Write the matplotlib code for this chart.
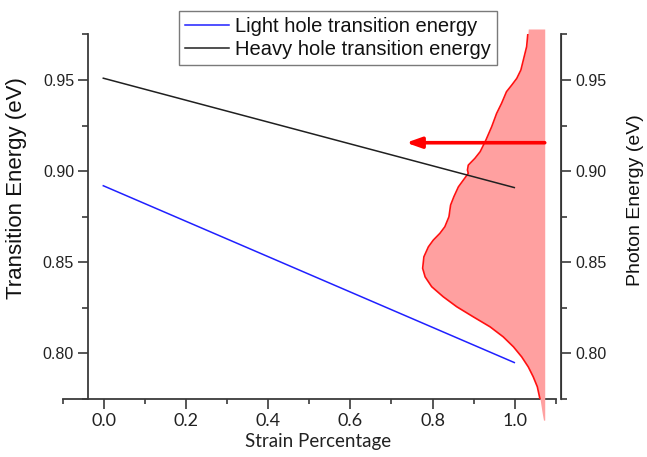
import numpy as np
import matplotlib.pyplot as plt
from matplotlib.ticker import MultipleLocator
from matplotlib.lines import Line2D

plt.rcParams['font.family'] = ['Liberation Sans', 'DejaVu Sans']

# énergies de transition en fonction de la déformation
strain = [0.0, 1.0]
light_hole = [0.892, 0.795]
heavy_hole = [0.951, 0.891]

# spectre de photoluminescence (tourné) : énergie photon et bord gauche (unités axe x)
photon_energy = [0.9780, 0.9683, 0.9628, 0.9555, 0.9509, 0.9473, 0.9436, 0.9372,
                 0.9317, 0.9244, 0.9171, 0.9107, 0.9070, 0.9033, 0.9006, 0.8988,
                 0.8951, 0.8914, 0.8860, 0.8814, 0.8750, 0.8695, 0.8659, 0.8622,
                 0.8585, 0.8530, 0.8467, 0.8420, 0.8366, 0.8311, 0.8256, 0.8201,
                 0.8146, 0.8091, 0.8036, 0.7981, 0.7926, 0.7872, 0.7817, 0.7744,
                 0.7671, 0.7634]
spectre_x = [1.034, 1.030, 1.024, 1.016, 1.006, 0.994, 0.981, 0.969,
             0.957, 0.945, 0.931, 0.917, 0.904, 0.888, 0.886, 0.888,
             0.876, 0.864, 0.853, 0.845, 0.841, 0.831, 0.819, 0.803,
             0.791, 0.780, 0.777, 0.783, 0.799, 0.827, 0.860, 0.900,
             0.941, 0.973, 0.998, 1.018, 1.034, 1.046, 1.056, 1.063,
             1.068, 1.071]
spectre_base = 1.074

# flèche
arrow_energy = 0.9156
arrow_start = 1.074
arrow_end = 0.737

W, H = 647, 457
fig = plt.figure(figsize=(W / 100, H / 100), dpi=100)

spine_col = '#3a3a3a'

# axe x séparé (plus large que le cadre)
ax_x = fig.add_axes([62.7 / W, 1 - 399 / H, 493.2 / W, 365 / H])
ax_x.set_xlim(-0.1, 1.1)
ax_x.patch.set_visible(False)
for s in ['top', 'left', 'right']:
    ax_x.spines[s].set_visible(False)
ax_x.spines['bottom'].set_color(spine_col)
ax_x.spines['bottom'].set_linewidth(1.3)
ax_x.set_yticks([])
ax_x.xaxis.set_minor_locator(MultipleLocator(0.1))
ax_x.set_xticks([0.0, 0.2, 0.4, 0.6, 0.8, 1.0])
ax_x.set_xticklabels(['0.0', '0.2', '0.4', '0.6', '0.8', '1.0'], family='Lato', fontsize=13)
ax_x.tick_params(axis='x', which='major', direction='out', length=7, width=1.2,
                 color=spine_col, pad=3, labelcolor='#222222')
ax_x.tick_params(axis='x', which='minor', direction='out', length=3.5, width=1.2,
                 color=spine_col)

ax = fig.add_axes([88 / W, 1 - 399 / H, 473 / W, 365 / H])
ax.patch.set_visible(False)
ax.set_xlim(-0.0372, 1.1136)
ax.set_ylim(0.775, 0.97525)
ax.spines['top'].set_visible(False)
ax.spines['bottom'].set_visible(False)
ax.set_xticks([])

ax_r = ax.twinx()
ax_r.set_ylim(0.775, 0.97525)
for s in ['top', 'bottom', 'left']:
    ax_r.spines[s].set_visible(False)

for a, side in [(ax, 'left'), (ax_r, 'right')]:
    a.spines[side].set_color(spine_col)
    a.spines[side].set_linewidth(1.3)
    a.set_yticks([0.80, 0.85, 0.90, 0.95])
    a.set_yticklabels(['0.80', '0.85', '0.90', '0.95'])
    a.yaxis.set_minor_locator(MultipleLocator(0.025))
    a.tick_params(axis='y', which='major', direction='out', length=7, width=1.2,
                  color=spine_col, pad=3, labelsize=11.5, labelcolor='#222222')
    a.tick_params(axis='y', which='minor', direction='out', length=4, width=1.2,
                  color=spine_col)

# spectre rempli
ax.fill_betweenx(photon_energy, spectre_x, spectre_base, color='#ffa0a0',
                 linewidth=0, clip_on=False, zorder=1)
ax.plot(spectre_x, photon_energy, color='#ff1010', lw=1.2, zorder=2)

# courbes
ax.plot(strain, light_hole, color='#2020ff', lw=1.1, zorder=3)
ax.plot(strain, heavy_hole, color='#202020', lw=1.1, zorder=3)

# flèche
ax.annotate('', xy=(arrow_end, arrow_energy), xytext=(arrow_start, arrow_energy),
            arrowprops=dict(arrowstyle='-|>,head_length=0.9,head_width=0.32',
                            color='#ff0000', lw=2.6, shrinkA=0, shrinkB=0),
            zorder=4, annotation_clip=False)

# étiquettes
fig.text(17 / W, 1 - 188 / H, 'Transition Energy (eV)', rotation=90,
         ha='center', va='center', fontsize=16, color='#111111')
fig.text(636 / W, 1 - 200 / H, 'Photon Energy (eV)', rotation=90,
         ha='center', va='center', fontsize=14, color='#111111')
fig.text(318 / W, 1 - 441 / H, 'Strain Percentage', ha='center', va='center',
         fontsize=13.5, family='Lato', color='#222222')

handles = [Line2D([], [], color='#2020ff', lw=1.1),
           Line2D([], [], color='#202020', lw=1.1)]
leg = fig.legend(handles, ['Light hole transition energy', 'Heavy hole transition energy'],
                 loc='upper left', bbox_to_anchor=(179 / W, 1 - 11 / H),
                 borderaxespad=0, fontsize=14.5, handlelength=2.2, handletextpad=0.3,
                 labelspacing=0.2, borderpad=0.3, fancybox=False, framealpha=1)
leg.get_frame().set_edgecolor('#7a7a7a')
leg.get_frame().set_linewidth(1.0)
for t in leg.get_texts():
    t.set_color('#111111')

fig.savefig('out.png', dpi=100)
